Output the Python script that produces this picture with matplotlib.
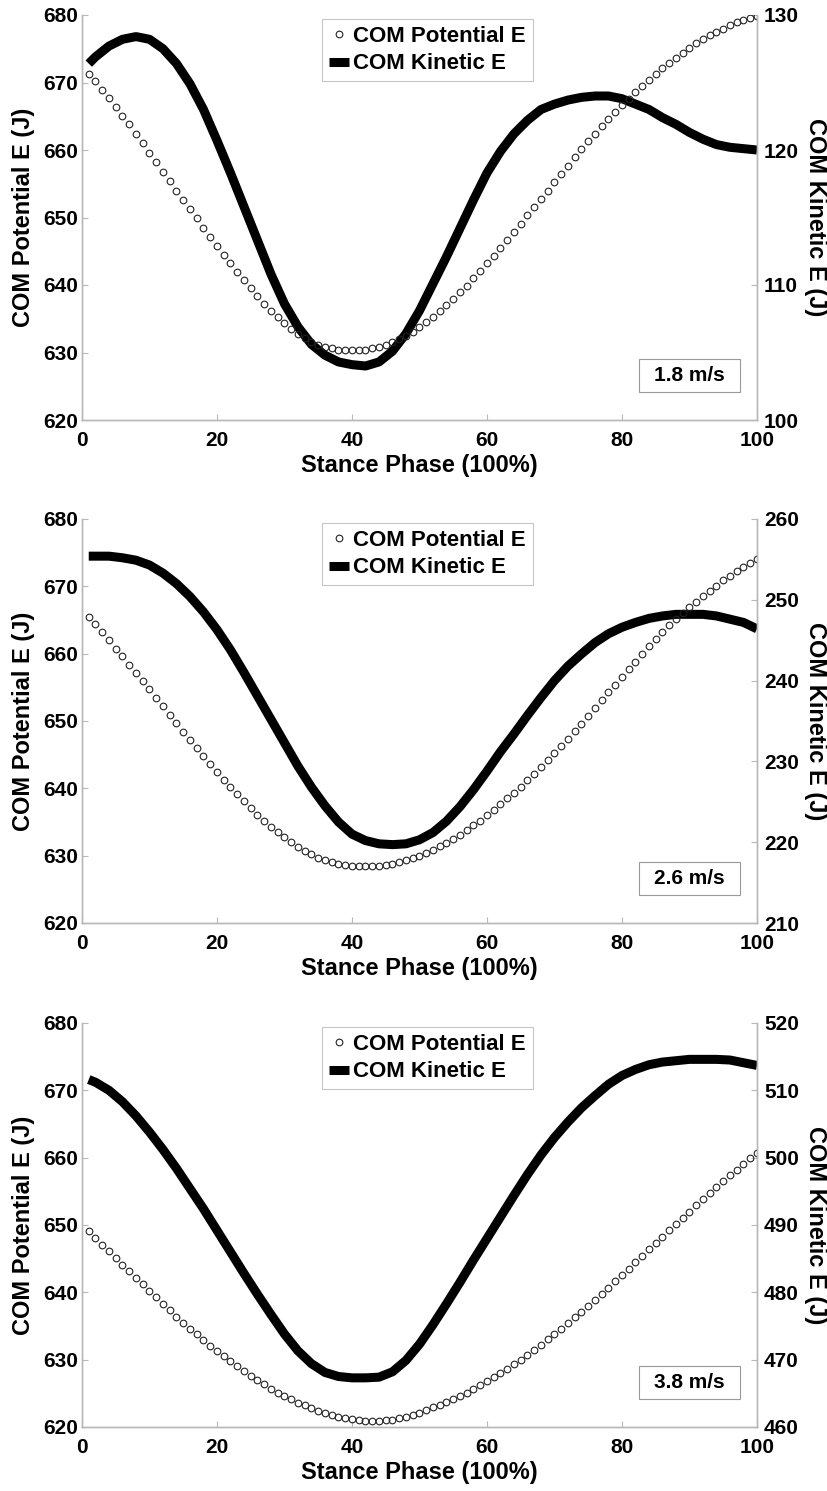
import numpy as np
import matplotlib.pyplot as plt
from matplotlib.patches import Rectangle
from matplotlib.lines import Line2D

plt.rcParams['font.family'] = ['Liberation Sans', 'DejaVu Sans']
plt.rcParams['font.weight'] = 'bold'

# stance phase (%) for the potential energy samples
phase = np.arange(1, 101)

# COM potential energy (J), left axis
pot_18 = [671.3, 670.2, 668.9, 667.7, 666.4, 665.1, 663.8, 662.4, 661.0, 659.6,
          658.2, 656.8, 655.4, 654.0, 652.6, 651.2, 649.9, 648.5, 647.1, 645.8,
          644.5, 643.2, 641.9, 640.7, 639.5, 638.3, 637.2, 636.2, 635.2, 634.3,
          633.5, 632.8, 632.1, 631.6, 631.1, 630.8, 630.6, 630.4, 630.3, 630.3,
          630.3, 630.4, 630.6, 630.8, 631.1, 631.5, 632.0, 632.5, 633.1, 633.8,
          634.5, 635.3, 636.1, 637.0, 637.9, 638.9, 639.9, 641.0, 642.1, 643.2,
          644.3, 645.5, 646.7, 647.9, 649.1, 650.3, 651.6, 652.8, 654.0, 655.3,
          656.5, 657.7, 658.9, 660.1, 661.3, 662.4, 663.5, 664.6, 665.6, 666.6,
          667.6, 668.6, 669.5, 670.4, 671.3, 672.1, 672.9, 673.7, 674.4, 675.1,
          675.8, 676.4, 677.0, 677.5, 678.0, 678.5, 678.9, 679.3, 679.6, 679.9]
pot_26 = [665.5, 664.4, 663.2, 662.0, 660.7, 659.6, 658.3, 657.1, 655.9, 654.7,
          653.4, 652.2, 650.9, 649.7, 648.4, 647.2, 646.0, 644.8, 643.6, 642.4,
          641.3, 640.2, 639.1, 638.1, 637.1, 636.1, 635.2, 634.3, 633.5, 632.7,
          632.0, 631.3, 630.7, 630.2, 629.7, 629.3, 629.0, 628.8, 628.6, 628.5,
          628.4, 628.4, 628.4, 628.5, 628.6, 628.8, 629.0, 629.3, 629.6, 630.0,
          630.4, 630.9, 631.4, 631.9, 632.5, 633.1, 633.8, 634.5, 635.2, 636.0,
          636.8, 637.6, 638.5, 639.3, 640.2, 641.2, 642.2, 643.2, 644.2, 645.2,
          646.3, 647.4, 648.5, 649.6, 650.8, 652.0, 653.1, 654.3, 655.4, 656.6,
          657.7, 658.8, 660.0, 661.1, 662.2, 663.2, 664.2, 665.1, 666.0, 666.9,
          667.7, 668.5, 669.3, 670.1, 670.9, 671.6, 672.3, 672.9, 673.5, 674.1]
pot_38 = [649.1, 648.1, 647.1, 646.1, 645.1, 644.1, 643.1, 642.1, 641.2, 640.2,
          639.3, 638.3, 637.4, 636.4, 635.5, 634.6, 633.8, 632.9, 632.1, 631.3,
          630.5, 629.8, 629.0, 628.3, 627.6, 627.0, 626.4, 625.7, 625.1, 624.6,
          624.1, 623.6, 623.2, 622.8, 622.4, 622.1, 621.8, 621.5, 621.3, 621.2,
          621.0, 620.9, 620.9, 620.9, 621.0, 621.1, 621.3, 621.5, 621.8, 622.1,
          622.5, 622.9, 623.3, 623.7, 624.1, 624.6, 625.1, 625.6, 626.2, 626.8,
          627.4, 628.0, 628.6, 629.3, 630.0, 630.7, 631.5, 632.2, 633.0, 633.8,
          634.6, 635.4, 636.3, 637.1, 638.0, 638.9, 639.8, 640.7, 641.7, 642.6,
          643.5, 644.5, 645.4, 646.4, 647.3, 648.2, 649.2, 650.1, 651.1, 652.0,
          652.9, 653.8, 654.7, 655.6, 656.5, 657.4, 658.2, 659.1, 659.9, 660.7]

# COM kinetic energy (J), right axis
kin_phase = [1] + list(range(2, 101, 2))
kin_18 = [126.4, 126.9, 127.7, 128.2, 128.4, 128.2, 127.5, 126.4, 124.9, 123.0,
          120.7, 118.3, 115.8, 113.3, 110.8, 108.6, 106.9, 105.6, 104.8, 104.3,
          104.1, 104.0, 104.3, 105.1, 106.4, 108.1, 110.1, 112.1, 114.2, 116.3,
          118.3, 119.9, 121.2, 122.2, 123.0, 123.4, 123.7, 123.9, 124.0, 124.0,
          123.8, 123.4, 123.0, 122.4, 121.9, 121.3, 120.8, 120.4, 120.2, 120.1,
          120.0]
kin_26 = [255.4, 255.4, 255.4, 255.2, 254.9, 254.3, 253.3, 252.0, 250.4, 248.5,
          246.3, 243.8, 241.0, 238.1, 235.2, 232.3, 229.4, 226.8, 224.5, 222.5,
          221.0, 220.2, 219.8, 219.7, 219.8, 220.3, 221.2, 222.6, 224.4, 226.5,
          228.8, 231.2, 233.4, 235.7, 237.9, 240.0, 241.8, 243.3, 244.7, 245.8,
          246.6, 247.2, 247.7, 248.0, 248.2, 248.2, 248.2, 248.0, 247.6, 247.2,
          246.4]
kin_38 = [511.6, 511.2, 510.0, 508.3, 506.2, 503.8, 501.2, 498.4, 495.4, 492.4,
          489.2, 486.0, 482.8, 479.7, 476.7, 473.8, 471.3, 469.4, 468.1, 467.5,
          467.3, 467.3, 467.4, 468.2, 469.9, 472.3, 475.2, 478.3, 481.5, 484.8,
          488.0, 491.2, 494.4, 497.5, 500.4, 503.0, 505.3, 507.4, 509.2, 510.9,
          512.2, 513.1, 513.8, 514.2, 514.4, 514.6, 514.6, 514.6, 514.5, 514.1,
          513.7]

speeds = ['1.8 m/s', '2.6 m/s', '3.8 m/s']
pot_series = [pot_18, pot_26, pot_38]
kin_series = [kin_18, kin_26, kin_38]
kin_limits = [(100, 130), (210, 260), (460, 520)]

# pixel top/bottom of each panel
panel_px = [(15, 420), (519, 923), (1023, 1427)]
W, H = 828, 1491
grey = '#b8b8b8'

fig = plt.figure(figsize=(W / 100, H / 100), dpi=100)

for i in range(3):
    top, bot = panel_px[i]
    ax = fig.add_axes([82 / W, 1 - bot / H, 675 / W, (bot - top) / H])
    ax2 = ax.twinx()

    # kinetic E (thick line) underneath the potential circles
    ax2.plot(kin_phase, kin_series[i], color='k', lw=6.5, solid_capstyle='butt',
             solid_joinstyle='round')
    ax.plot(phase, pot_series[i], 'o', mfc='none', mec='#222222', ms=4.8, mew=0.8)
    ax.set_zorder(ax2.get_zorder() + 1)
    ax.patch.set_visible(False)

    ax.set_xlim(0, 100)
    ax.set_ylim(620, 680)
    ax.set_xticks(range(0, 101, 20))
    ax.set_yticks(range(620, 681, 10))
    lo, hi = kin_limits[i]
    ax2.set_ylim(lo, hi)
    ax2.set_yticks(range(lo, hi + 1, 10))

    for a in (ax, ax2):
        a.spines['top'].set_visible(False)
        for s in ('left', 'right', 'bottom'):
            a.spines[s].set_color(grey)
            a.spines[s].set_linewidth(1.0)
        a.tick_params(direction='in', length=4, width=0.8, color=grey,
                      labelsize=15, pad=3)
    ax.tick_params(axis='x', pad=8)
    ax2.tick_params(axis='y', pad=5)

    ax.set_xlabel('Stance Phase (100%)', fontsize=17, fontweight='bold', labelpad=3)
    ax.set_ylabel('COM Potential E (J)', fontsize=17, fontweight='bold', labelpad=6)
    ax2.set_ylabel('COM Kinetic E (J)', fontsize=17, fontweight='bold',
                   rotation=270, va='bottom', labelpad=4)

    handles = [Line2D([], [], marker='o', ls='none', mfc='none', mec='#222222', ms=4.8, mew=0.8),
               Line2D([], [], color='k', lw=6.5, solid_capstyle='butt')]
    leg = ax.legend(handles, ['COM Potential E', 'COM Kinetic E'], loc='upper left',
                    bbox_to_anchor=(0.356, 0.99), fontsize=16, frameon=True,
                    fancybox=False, edgecolor=grey, handlelength=0.9,
                    handletextpad=0.2, borderpad=0.3, labelspacing=0.3,
                    borderaxespad=0)
    leg.get_frame().set_linewidth(0.8)

    ax.add_patch(Rectangle((0.825, 0.069), 0.15, 0.082, transform=ax.transAxes,
                           fc='white', ec='#999999', lw=0.8, zorder=5))
    ax.text(0.90, 0.11, speeds[i], transform=ax.transAxes, ha='center', va='center',
            fontsize=15, fontweight='bold', zorder=6)

fig.savefig('out.png', dpi=100)
